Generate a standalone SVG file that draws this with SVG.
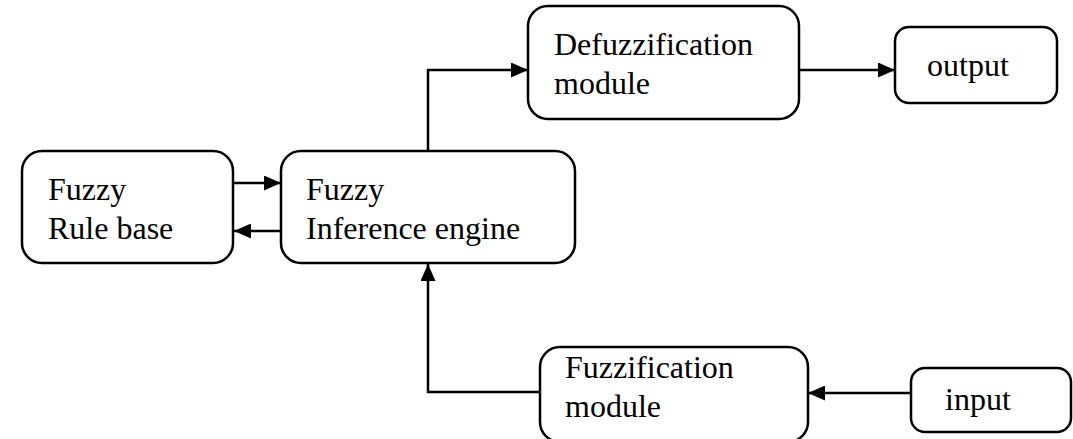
<svg xmlns="http://www.w3.org/2000/svg" width="1073" height="439" viewBox="0 0 1073 439">
<defs>
<style>
.box{fill:#fff;stroke:#000;stroke-width:2.5}
.t{font-family:'Liberation Serif',Tinos,'Times New Roman',Times,serif;font-size:32px;fill:#000}
.c{fill:none;stroke:#000;stroke-width:2.5}
</style>
<marker id="ah" viewBox="0 0 17 15" refX="17" refY="7.5" markerWidth="17" markerHeight="15" markerUnits="userSpaceOnUse" orient="auto">
<path d="M0,0 L17,7.5 L0,15 z" fill="#000"/>
</marker>
</defs>
<rect width="1073" height="439" fill="#fff"/>
<g id="connectors">
<path class="c" d="M233,183 H281" marker-end="url(#ah)"/>
<path class="c" d="M281,231 H234" marker-end="url(#ah)"/>
<path class="c" d="M428,151 V70 H528" marker-end="url(#ah)"/>
<path class="c" d="M799,70 H895" marker-end="url(#ah)"/>
<path class="c" d="M911,393 H808" marker-end="url(#ah)"/>
<path class="c" d="M540,392 H428 V264" marker-end="url(#ah)"/>
</g>
<g id="rulebase">
<rect class="box" x="22" y="151" width="211" height="112" rx="20"/>
<text class="t" x="48" y="200">Fuzzy</text>
<text class="t" x="48" y="239">Rule base</text>
</g>
<g id="inference">
<rect class="box" x="281" y="151" width="294" height="112" rx="20"/>
<text class="t" x="306" y="200">Fuzzy</text>
<text class="t" x="306" y="239">Inference engine</text>
</g>
<g id="defuzzification">
<rect class="box" x="528" y="6" width="271" height="113" rx="20"/>
<text class="t" x="554" y="55">Defuzzification</text>
<text class="t" x="554" y="94">module</text>
</g>
<g id="output">
<rect class="box" x="895" y="27" width="162" height="76" rx="14"/>
<text class="t" x="927" y="76">output</text>
</g>
<g id="fuzzification">
<rect class="box" x="540" y="347" width="268" height="95" rx="20"/>
<text class="t" x="565" y="378">Fuzzification</text>
<text class="t" x="565" y="417">module</text>
</g>
<g id="input">
<rect class="box" x="911" y="368" width="160" height="64" rx="14"/>
<text class="t" x="945" y="410">input</text>
</g>
</svg>
